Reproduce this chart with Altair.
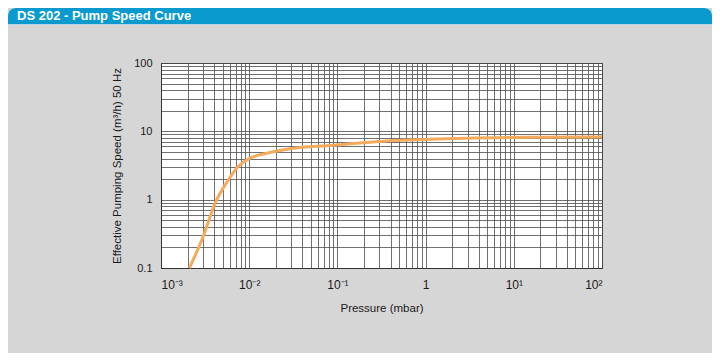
import altair as alt
import pandas as pd

# Data
pressure = [0.0021, 0.003, 0.0041, 0.0058, 0.0072, 0.0102, 0.0158, 0.0316, 0.098, 0.394, 1.0, 2.92, 19.8, 100]
speed = [0.1, 0.287, 0.885, 1.94, 2.88, 4.04, 4.78, 5.66, 6.31, 7.3, 7.62, 7.93, 8.19, 8.3]

x_grid = [float(f"{m}e{e}") for e in range(-3, 2) for m in range(1, 10)] + [100.0]
y_grid = [float(f"{m}e{e}") for e in range(-1, 2) for m in range(1, 10)] + [100.0]

x_labels = "{'0.001':'10⁻³','0.01':'10⁻²','0.1':'10⁻¹','1':'1','10':'10¹','100':'10²'}"
y_labels = "{'0.1':'0.1','1':'1','10':'10','100':'100'}"

title_text = "DS 202 - Pump Speed Curve"
x_title = "Pressure (mbar)"
y_title = "Effective Pumping Speed (m³/h) 50 Hz"

FONT = "Liberation Sans, Arial, sans-serif"

df = pd.DataFrame({"pressure": pressure, "speed": speed})

W, H = 441, 205

line = alt.Chart(df).mark_line(color="#f5aa5c", strokeWidth=3, interpolate="monotone").encode(
    x=alt.X("pressure:Q",
            scale=alt.Scale(type="log", domain=[0.001, 100], nice=False),
            axis=alt.Axis(values=x_grid, labelExpr=f"{x_labels}[toString(datum.value)] || ''",
                          labelOverlap=False, ticks=False, labelPadding=11, labelFontSize=12,
                          title=x_title, titlePadding=12, grid=True)),
    y=alt.Y("speed:Q",
            scale=alt.Scale(type="log", domain=[0.1, 100], nice=False),
            axis=alt.Axis(values=y_grid, labelExpr=f"{y_labels}[toString(datum.value)] || ''",
                          labelOverlap=False, ticks=False, labelPadding=9,
                          title=y_title, titlePadding=11, grid=True)),
)

deco = alt.Data(values=[{}])

bar = alt.Chart(deco).mark_rect(color="#0a9acd", cornerRadiusTopLeft=8, cornerRadiusTopRight=8).encode(
    x=alt.value(-153), x2=alt.value(551), y=alt.value(-55), y2=alt.value(-39)
)
bar_line = alt.Chart(deco).mark_rect(color="#b9d3e3").encode(
    x=alt.value(-153), x2=alt.value(551), y=alt.value(-39), y2=alt.value(-38)
)
title = alt.Chart(deco).mark_text(
    text=title_text, color="white", font=FONT, fontWeight="bold", fontSize=13,
    align="left", baseline="middle"
).encode(x=alt.value(-144), y=alt.value(-47))

chart = alt.layer(bar, bar_line, title, line).properties(
    width=W, height=H,
    padding={"left": 153, "top": 55, "right": 110, "bottom": 85},
    autosize=alt.AutoSizeParams(type="none"),
    background="#d6d6d6",
).configure_view(
    fill="white", stroke="#333333", strokeWidth=1
).configure_axis(
    labelFont=FONT, labelFontSize=11, labelColor="#1a1a1a",
    titleFont=FONT, titleFontSize=11.5, titleFontWeight="normal", titleColor="#1a1a1a",
    gridColor="#4d4d4d", gridWidth=0.8, gridOpacity=1,
    domainColor="#333333", domainWidth=1,
)

chart.save("out.html", embed_options={"renderer": "svg", "actions": False})
